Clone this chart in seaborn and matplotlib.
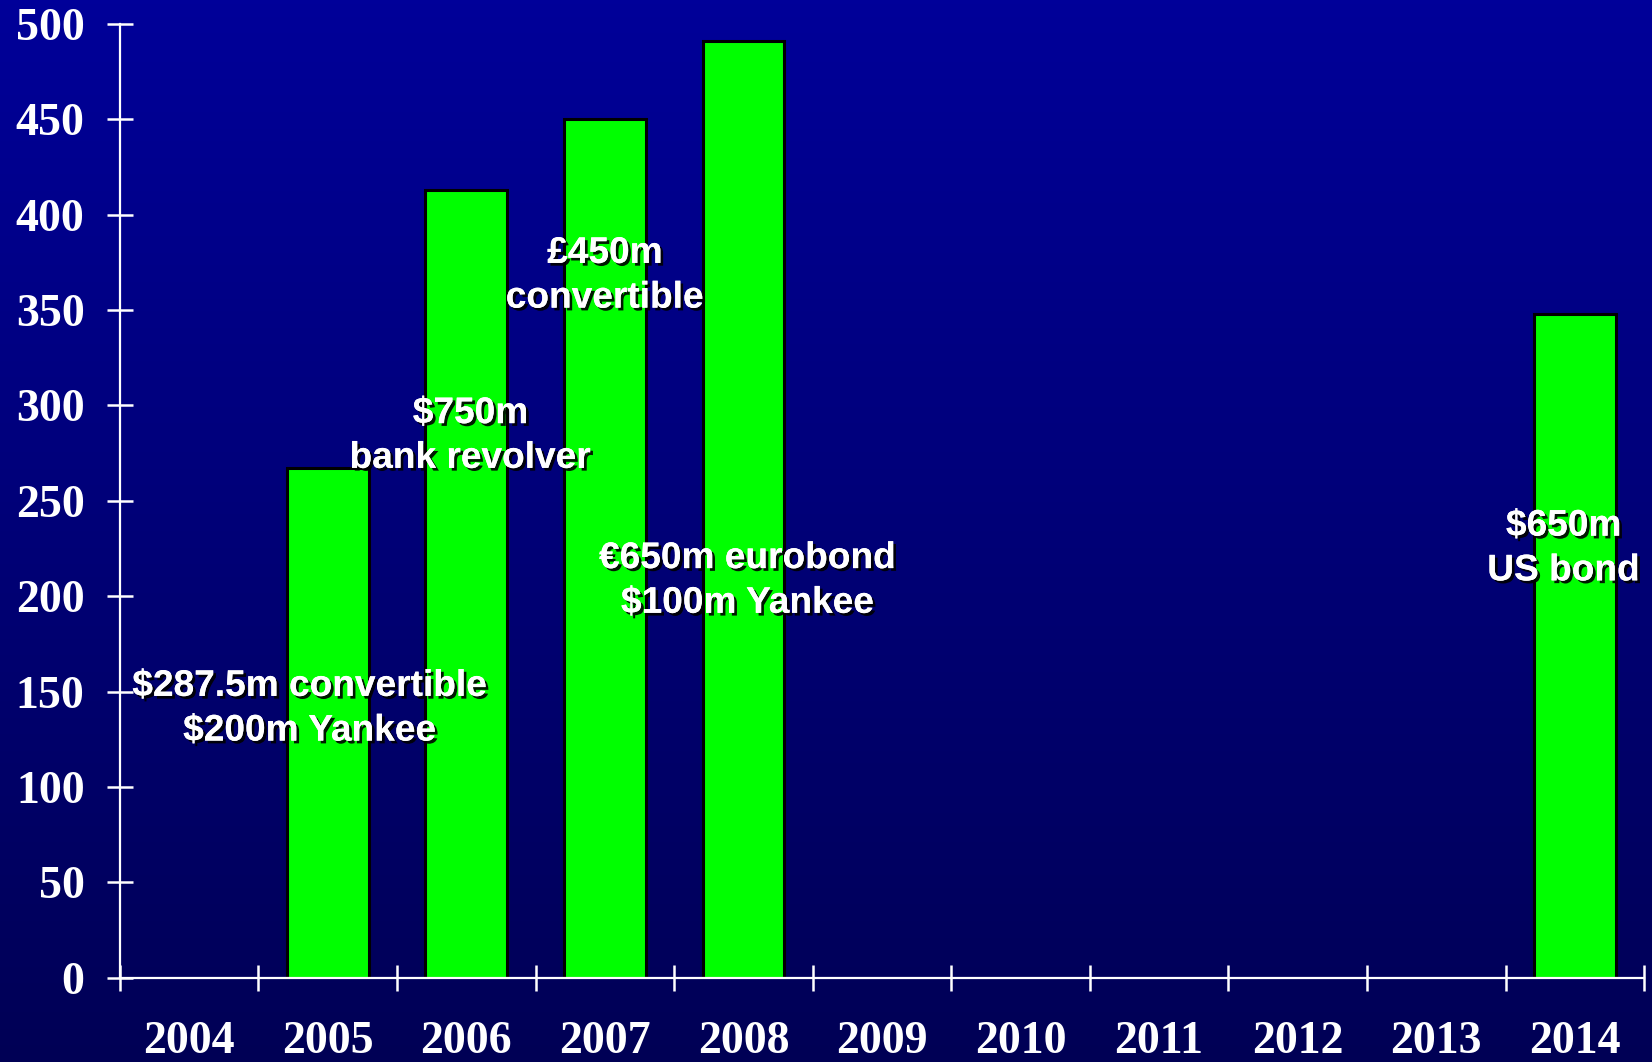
import numpy as np
import pandas as pd
import matplotlib
matplotlib.use("Agg")
import matplotlib.pyplot as plt
import matplotlib.patheffects as pe
from matplotlib.colors import LinearSegmentedColormap
import seaborn as sns

# Issuance by year (NaN = no issue that year)
years = ["2004", "2005", "2006", "2007", "2008", "2009",
         "2010", "2011", "2012", "2013", "2014"]
amounts = [np.nan, 267, 413, 450, 491, np.nan,
           np.nan, np.nan, np.nan, np.nan, 348]
y_ticks = [0, 50, 100, 150, 200, 250, 300, 350, 400, 450, 500]

# Deal annotations: text, x position (category index), y value
note_texts = ["$287.5m convertible\n$200m Yankee",
              "$750m\nbank revolver",
              "£450m\nconvertible",
              "€650m eurobond\n$100m Yankee",
              "$650m\nUS bond"]
note_x = [0.87, 2.03, 3.0, 4.03, 9.92]
note_y = [141, 284, 368, 208, 225]

df = pd.DataFrame({"year": years, "amount": amounts})

sns.set_theme(style="white")
fig = plt.figure(figsize=(16.52, 10.62), dpi=100)

# Vertical blue gradient background
bg = fig.add_axes([0, 0, 1, 1], zorder=-10)
cmap = LinearSegmentedColormap.from_list("bg", ["#000099", "#000055"])
grad = np.linspace(0, 1, 256).reshape(-1, 1)
bg.imshow(grad, aspect="auto", cmap=cmap, extent=[0, 1, 0, 1], origin="upper")
bg.set_axis_off()

ax = fig.add_axes([0.0726, 0.0794, 0.9226, 0.898])
ax.set_facecolor("none")

sns.barplot(data=df, x="year", y="amount", order=years, color="#00FF00",
            saturation=1, width=0.59, edgecolor="black", linewidth=2.2, ax=ax)
ax.set_xlim(-0.5, 10.5)
ax.set_ylim(0, 500)
ax.set_xlabel("")
ax.set_ylabel("")

for side in ["top", "right"]:
    ax.spines[side].set_visible(False)
for side in ["left", "bottom"]:
    ax.spines[side].set_color("white")
    ax.spines[side].set_linewidth(1.6)
    ax.spines[side].set_zorder(5)

serif = {"family": "Liberation Serif", "weight": "bold", "size": 33}

ax.set_yticks(y_ticks)
ax.set_yticklabels([str(v) for v in y_ticks], fontdict=serif, color="white")
ax.tick_params(axis="y", direction="inout", length=19, width=1.8,
               color="white", pad=16, left=True)

# Ticks on category boundaries, year labels at centres
ax.set_xticks(np.arange(-0.5, 11, 1.0))
ax.set_xticklabels([])
ax.tick_params(axis="x", which="major", direction="inout", length=19,
               width=1.8, color="white", bottom=True)
ax.set_xticks(np.arange(len(years)), minor=True)
ax.set_xticklabels(years, minor=True, fontdict=serif, color="white")
ax.tick_params(axis="x", which="minor", length=0, pad=31)

shadow = [pe.withSimplePatchShadow(offset=(2, -2), shadow_rgbFace="black",
                                   alpha=0.9), pe.Normal()]
for txt, xx, yy in zip(note_texts, note_x, note_y):
    ax.text(xx, yy, txt, ha="center", va="center", color="white",
            family="Liberation Sans", weight="bold", fontsize=26.7,
            linespacing=1.36, path_effects=shadow, zorder=10)

fig.savefig("out.png", dpi=100)
